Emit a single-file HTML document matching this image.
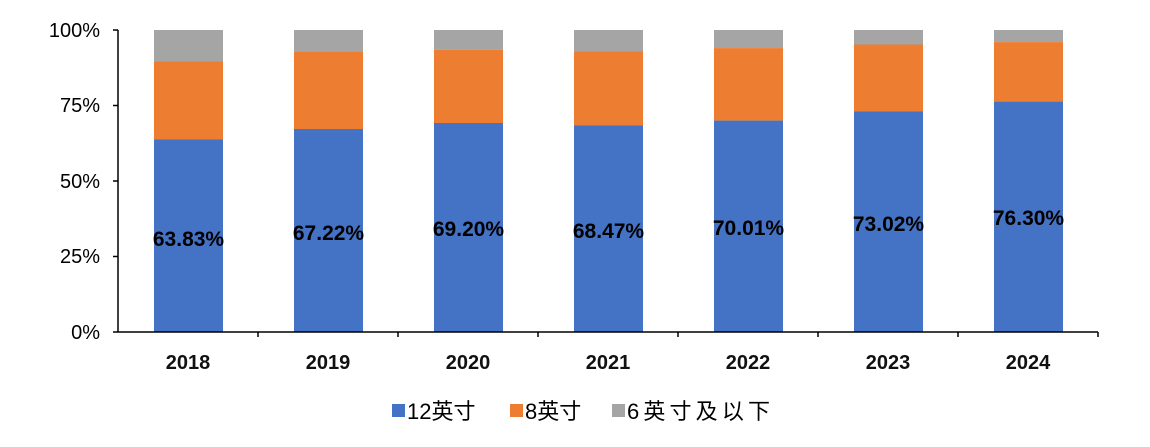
<!DOCTYPE html>
<html><head><meta charset="utf-8"><style>
body{margin:0;background:#fff;}
svg text{font-family:"Liberation Sans","Noto Sans CJK SC",sans-serif;}
</style></head><body>
<svg width="1150" height="442" viewBox="0 0 1150 442" xmlns="http://www.w3.org/2000/svg">
<g fill="#a5a5a5">
<rect x="154" y="30" width="69" height="31.1"/><rect x="294" y="30" width="69" height="22"/><rect x="434" y="30" width="69" height="19.9"/><rect x="574" y="30" width="69" height="21.1"/><rect x="714" y="30" width="69" height="18.1"/><rect x="854" y="30" width="69" height="14.5"/><rect x="994" y="30" width="69" height="12.1"/>
</g>
<g fill="#ed7d31">
<rect x="154" y="61.1" width="69" height="78.1"/><rect x="294" y="52" width="69" height="77"/><rect x="434" y="49.9" width="69" height="73.1"/><rect x="574" y="51.1" width="69" height="74.1"/><rect x="714" y="48.1" width="69" height="72.5"/><rect x="854" y="44.5" width="69" height="67"/><rect x="994" y="42.1" width="69" height="59.5"/>
</g>
<g fill="#4472c4">
<rect x="154" y="139.2" width="69" height="192.8"/><rect x="294" y="129" width="69" height="203"/><rect x="434" y="123" width="69" height="209"/><rect x="574" y="125.2" width="69" height="206.8"/><rect x="714" y="120.6" width="69" height="211.4"/><rect x="854" y="111.5" width="69" height="220.5"/><rect x="994" y="101.6" width="69" height="230.4"/>
</g>
<g font-size="21" font-weight="bold" text-anchor="middle" fill="#000">
<text x="188.5" y="246">63.83%</text><text x="328.5" y="240">67.22%</text><text x="468.5" y="236">69.20%</text><text x="608.5" y="238">68.47%</text><text x="748.5" y="235">70.01%</text><text x="888.5" y="231">73.02%</text><text x="1028.5" y="225">76.30%</text>
</g>
<g stroke="#000" stroke-width="1.5">
<line x1="118" y1="30" x2="118" y2="332"/>
<line x1="118" y1="332" x2="1098" y2="332"/>
<line x1="113" y1="30" x2="118" y2="30"/>
<line x1="113" y1="105.5" x2="118" y2="105.5"/>
<line x1="113" y1="181" x2="118" y2="181"/>
<line x1="113" y1="256.5" x2="118" y2="256.5"/>
<line x1="113" y1="332" x2="118" y2="332"/>
<line x1="258" y1="332" x2="258" y2="337"/><line x1="398" y1="332" x2="398" y2="337"/><line x1="538" y1="332" x2="538" y2="337"/><line x1="678" y1="332" x2="678" y2="337"/><line x1="818" y1="332" x2="818" y2="337"/><line x1="958" y1="332" x2="958" y2="337"/><line x1="1098" y1="332" x2="1098" y2="337"/>
</g>
<g font-size="20" text-anchor="end" fill="#000">
<text x="100" y="37">100%</text><text x="100" y="112">75%</text><text x="100" y="188">50%</text><text x="100" y="263">25%</text><text x="100" y="339">0%</text>
</g>
<g font-size="20" font-weight="bold" text-anchor="middle" fill="#111">
<text x="188" y="369">2018</text><text x="328" y="369">2019</text><text x="468" y="369">2020</text><text x="608" y="369">2021</text><text x="748" y="369">2022</text><text x="888" y="369">2023</text><text x="1028" y="369">2024</text>
</g>
<g font-size="22">
<rect x="392" y="404" width="13" height="13" fill="#4472c4"/><text x="407" y="419">12英寸</text>
<rect x="510" y="404" width="13" height="13" fill="#ed7d31"/><text x="525" y="419">8英寸</text>
<rect x="612" y="404" width="13" height="13" fill="#a5a5a5"/><text x="627" y="419" textLength="143">6英寸及以下</text>
</g>
</svg>
</body></html>
